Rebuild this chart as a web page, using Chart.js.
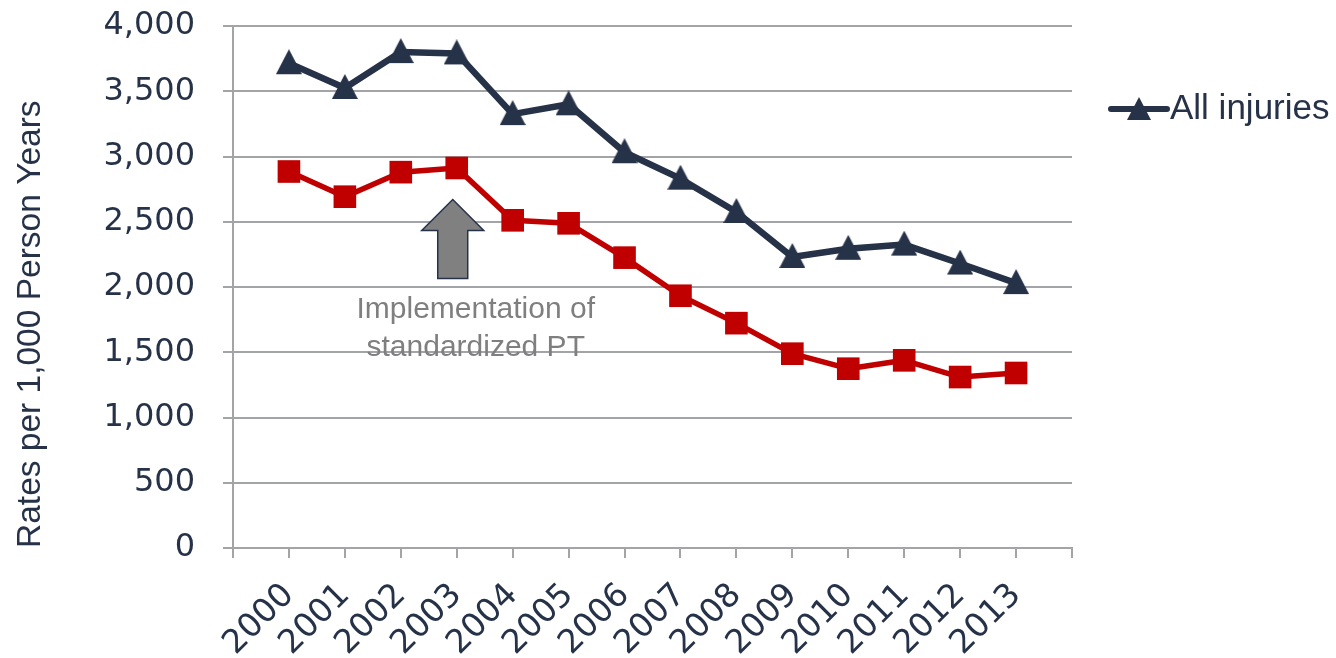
<!DOCTYPE html>
<html>
<head>
<meta charset="utf-8">
<script src="https://cdn.jsdelivr.net/npm/chart.js@4.4.1/dist/chart.umd.min.js"></script>
<style>
  html, body { margin: 0; padding: 0; background: #ffffff; }
  #wrap { width: 1336px; height: 658px; }
</style>
</head>
<body>
<div id="wrap"><canvas id="chart" width="1336" height="658"></canvas></div>
<script>
// Injury rates per 1,000 person years, 2000-2013
const years = ['2000', '2001', '2002', '2003', '2004', '2005', '2006',
               '2007', '2008', '2009', '2010', '2011', '2012', '2013'];
const allInjuries = [3715, 3525, 3800, 3790, 3325, 3400, 3033,
                     2830, 2575, 2230, 2293, 2325, 2180, 2030];
const secondSeries = [2885, 2692, 2880, 2912, 2511, 2488, 2225,
                      1933, 1723, 1489, 1374, 1438, 1310, 1341];
const yTickValues = [0, 500, 1000, 1500, 2000, 2500, 3000, 3500, 4000];

// Category axis keeps an empty slot at each end, as in the original layout
const axisLabels = [''].concat(years, ['']);
const padEnds = arr => [null].concat(arr, [null]);

// Annotation: arrow marking the start of standardized PT
const arrowYear = '2003';
const arrowRange = [2065, 2670];   // shaft bottom, arrow tip (rate units)
const noteLines = ['Implementation of', 'standardized PT'];

const navy = '#263248';
const red = '#C00000';
const gridColor = '#a3a4a8';
const textColor = '#263248';

function triangleImage(w, h, tri, color) {
  const c = document.createElement('canvas');
  c.width = w; c.height = h;
  const g = c.getContext('2d');
  g.fillStyle = color;
  g.beginPath();
  g.moveTo(w / 2, 0);
  g.lineTo(w, tri);
  g.lineTo(0, tri);
  g.closePath();
  g.fill();
  return c;
}
const triangleMarker = triangleImage(26, 28, 25, navy);

const extras = {
  id: 'extras',
  afterDraw(chart) {
    const ctx = chart.ctx;
    const xs = chart.scales.x, ys = chart.scales.y;

    // block arrow
    const cx = xs.getPixelForValue(axisLabels.indexOf(arrowYear)) - 4;
    const tipY = ys.getPixelForValue(arrowRange[1]);
    const botY = ys.getPixelForValue(arrowRange[0]);
    const headY = tipY + 31;
    ctx.save();
    ctx.beginPath();
    ctx.moveTo(cx, tipY);
    ctx.lineTo(cx + 31, headY);
    ctx.lineTo(cx + 15, headY);
    ctx.lineTo(cx + 15, botY);
    ctx.lineTo(cx - 15, botY);
    ctx.lineTo(cx - 15, headY);
    ctx.lineTo(cx - 31, headY);
    ctx.closePath();
    ctx.fillStyle = '#808080';
    ctx.fill();
    ctx.lineWidth = 1.5;
    ctx.strokeStyle = navy;
    ctx.lineJoin = 'miter';
    ctx.stroke();

    // annotation text
    ctx.font = '30px "Liberation Sans", Arial, sans-serif';
    ctx.fillStyle = '#7f7f7f';
    ctx.textAlign = 'center';
    ctx.textBaseline = 'alphabetic';
    noteLines.forEach((t, i) => ctx.fillText(t, cx + 23, botY + 39 + i * 38.5));

    // legend entry for the first series
    const ly = 109;
    ctx.beginPath();
    ctx.moveTo(1111, ly);
    ctx.lineTo(1167, ly);
    ctx.lineWidth = 6;
    ctx.lineCap = 'round';
    ctx.strokeStyle = navy;
    ctx.stroke();
    ctx.beginPath();
    ctx.moveTo(1139, ly - 12);
    ctx.lineTo(1151, ly + 11);
    ctx.lineTo(1127, ly + 11);
    ctx.closePath();
    ctx.fillStyle = navy;
    ctx.fill();
    ctx.font = '35px "Liberation Sans", Arial, sans-serif';
    ctx.fillStyle = textColor;
    ctx.textAlign = 'left';
    ctx.textBaseline = 'middle';
    ctx.fillText(chart.data.datasets[0].label, 1170, ly);
    ctx.restore();
  }
};

new Chart(document.getElementById('chart'), {
  type: 'line',
  data: {
    labels: axisLabels,
    datasets: [
      {
        label: 'All injuries',
        data: padEnds(allInjuries),
        borderColor: navy,
        backgroundColor: navy,
        borderWidth: 6.5,
        borderJoinStyle: 'round',
        pointStyle: triangleMarker,
        pointRadius: 13,
        tension: 0
      },
      {
        label: '',
        data: padEnds(secondSeries),
        borderColor: red,
        backgroundColor: red,
        borderWidth: 5.5,
        borderJoinStyle: 'round',
        pointStyle: 'rect',
        pointRadius: 16,
        pointBorderWidth: 0,
        tension: 0
      }
    ]
  },
  options: {
    responsive: false,
    animation: false,
    devicePixelRatio: 1,
    layout: { padding: { left: 0, top: 26, right: 264, bottom: 0 } },
    plugins: {
      legend: { display: false },
      tooltip: { enabled: false }
    },
    scales: {
      x: {
        type: 'category',
        offset: false,
        grid: { display: true, drawOnChartArea: false, drawTicks: true, tickLength: 10, color: gridColor, lineWidth: 2 },
        border: { display: true, color: gridColor, width: 2 },
        ticks: {
          autoSkip: false, minRotation: 45, maxRotation: 45, padding: 18,
          font: { family: 'DejaVu Sans', size: 33 }, color: textColor
        },
        afterFit(scale) { scale.height = 110; }
      },
      y: {
        min: 0, max: 4000,
        afterBuildTicks(scale) { scale.ticks = yTickValues.map(v => ({ value: v })); },
        grid: { color: gridColor, lineWidth: 2, tickLength: 10 },
        border: { display: true, color: gridColor, width: 2 },
        ticks: {
          padding: 28,
          font: { family: 'DejaVu Sans', size: 32 }, color: textColor,
          callback: v => Number(v).toLocaleString('en-US')
        },
        title: {
          display: true, text: 'Rates per 1,000 Person Years',
          align: 'start',
          font: { family: 'Liberation Sans', size: 33.5 }, color: textColor,
          padding: { top: 11, bottom: 0 }
        },
        afterFit(scale) {
          scale.width = 233;
          scale.paddingTop = 0;
          scale.paddingBottom = 0;
        }
      }
    }
  },
  plugins: [extras]
});
</script>
</body>
</html>
